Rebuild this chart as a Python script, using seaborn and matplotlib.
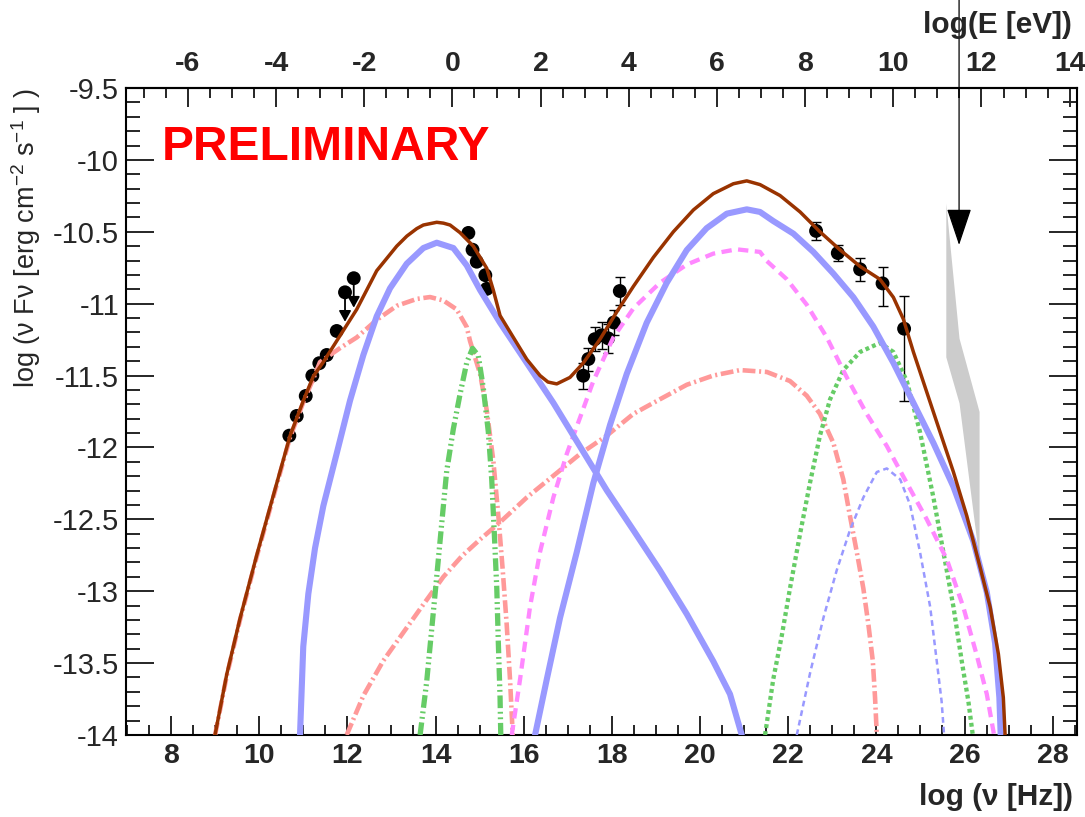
import numpy as np
import matplotlib
matplotlib.use("Agg")
import matplotlib.pyplot as plt
from matplotlib.ticker import MultipleLocator
import seaborn as sns

# ---------------- data ----------------
radio_x = [10.684, 10.852, 11.056, 11.206, 11.364, 11.532, 11.759]
radio_y = [-11.918, -11.781, -11.642, -11.501, -11.414, -11.357, -11.190]
ul_x = [11.947, 12.145]
ul_y = [-10.921, -10.823]
opt_x = [14.745, 14.840, 14.935, 15.130, 15.162]
opt_y = [-10.508, -10.625, -10.708, -10.802, -10.897]
xray_x = [17.350, 17.467, 17.612, 17.765, 17.915, 18.045, 18.180]
xray_y = [-11.501, -11.385, -11.247, -11.220, -11.241, -11.131, -10.912]
xray_err = [0.09, 0.08, 0.085, 0.095, 0.10, 0.085, 0.10]
gam_x = [22.632, 23.125, 23.631, 24.140, 24.629]
gam_y = [-10.494, -10.648, -10.761, -10.859, -11.174]
gam_err_lo = [0.063, 0.058, 0.078, 0.155, 0.505]
gam_err_hi = [0.063, 0.058, 0.078, 0.112, 0.228]
band_x = [25.575, 25.875, 26.330]
band_hi = [-10.30, -11.24, -11.75]
band_lo = [-11.37, -11.69, -12.78]
limit_x = 25.876
limit_y = -10.592

total_x = [8.998, 9.263, 9.565, 9.944, 10.321, 10.70, 11.002, 11.23, 11.455, 11.759,
           12.212, 12.666, 13.12, 13.35, 13.574, 13.724, 14.028, 14.18, 14.33, 14.556,
           14.858, 15.162, 15.31, 15.464, 15.766, 16.07, 16.37, 16.55, 16.75, 17.05,
           17.354, 17.732, 18.11, 18.488, 18.942, 19.395, 19.85, 20.30, 20.756, 21.06,
           21.362, 21.815, 22.27, 22.72, 23.18, 23.63, 24.08, 24.386, 24.613, 24.84,
           25.143, 25.445, 25.748, 26.05, 26.35, 26.58, 26.768, 26.88, 26.92]
total_y = [-14.0, -13.58, -13.19, -12.75, -12.334, -11.919, -11.675, -11.504, -11.406, -11.259,
           -11.04, -10.771, -10.60, -10.53, -10.478, -10.453, -10.434, -10.44, -10.453, -10.506,
           -10.60, -10.754, -10.905, -11.083, -11.235, -11.387, -11.50, -11.545, -11.558, -11.513,
           -11.412, -11.247, -11.058, -10.88, -10.678, -10.50, -10.348, -10.235, -10.166, -10.146,
           -10.172, -10.248, -10.362, -10.50, -10.627, -10.741, -10.83, -10.956, -11.108, -11.336,
           -11.615, -11.893, -12.171, -12.475, -12.83, -13.108, -13.437, -13.74, -14.0]

sync_x = [10.926, 11.0, 11.115, 11.267, 11.455, 11.759, 12.06, 12.363, 12.666, 12.968,
          13.347, 13.724, 14.028, 14.405, 14.708, 15.01, 15.464, 16.07, 16.673, 17.279,
          17.884, 18.49, 19.09, 19.70, 20.30, 20.68, 20.947]
sync_y = [-14.0, -13.385, -13.018, -12.70, -12.407, -12.041, -11.675, -11.357, -11.088, -10.893,
          -10.722, -10.613, -10.576, -10.613, -10.734, -10.905, -11.133, -11.412, -11.69, -11.994,
          -12.298, -12.576, -12.855, -13.159, -13.487, -13.716, -14.0]

ssc_x = [16.258, 16.523, 16.825, 17.204, 17.58, 17.96, 18.338, 18.79, 19.245, 19.70,
         20.15, 20.607, 21.06, 21.36, 21.66, 22.118, 22.57, 23.025, 23.48, 23.93,
         24.386, 24.84, 25.294, 25.748, 26.20, 26.505, 26.693, 26.79, 26.82]
ssc_y = [-14.0, -13.614, -13.184, -12.728, -12.247, -11.842, -11.488, -11.133, -10.855, -10.627,
         -10.475, -10.374, -10.344, -10.362, -10.425, -10.513, -10.64, -10.791, -10.956, -11.159,
         -11.412, -11.69, -11.969, -12.273, -12.652, -13.007, -13.361, -13.74, -14.0]

ext1_x = [9.0, 9.263, 9.565, 9.944, 10.321, 10.70, 11.002, 11.23, 11.38, 11.834,
          12.212, 12.666, 13.12, 13.574, 13.876, 14.178, 14.48, 14.708, 14.783, 15.01,
          15.162, 15.312, 15.425, 15.525, 15.615, 15.69, 15.752]
ext1_y = [-14.0, -13.59, -13.20, -12.76, -12.345, -11.93, -11.685, -11.52, -11.406, -11.309,
          -11.235, -11.113, -11.015, -10.967, -10.954, -10.978, -11.04, -11.162, -11.26, -11.488,
          -11.741, -12.095, -12.475, -12.855, -13.234, -13.614, -14.0]

ext2_x = [11.985, 12.363, 12.816, 13.27, 13.724, 14.178, 14.6, 15.01, 15.464, 16.07,
          16.673, 17.28, 17.884, 18.49, 19.09, 19.70, 20.30, 20.908, 21.514, 22.04,
          22.42, 22.72, 23.025, 23.25, 23.40, 23.556, 23.705, 23.82, 23.92, 23.97, 24.01]
ext2_y = [-14.0, -13.727, -13.483, -13.287, -13.092, -12.90, -12.755, -12.64, -12.52, -12.348,
          -12.197, -12.045, -11.918, -11.766, -11.665, -11.564, -11.50, -11.462, -11.475, -11.538,
          -11.64, -11.766, -11.969, -12.222, -12.475, -12.728, -12.981, -13.234, -13.487, -13.74, -14.0]

disk_x = [13.65, 13.80, 13.914, 14.028, 14.14, 14.254, 14.405, 14.556, 14.708, 14.84,
          14.97, 15.085, 15.198, 15.275, 15.334, 15.39, 15.425, 15.464, 15.48]
disk_y = [-14.0, -13.628, -13.262, -12.896, -12.53, -12.163, -11.87, -11.63, -11.41, -11.311,
          -11.362, -11.589, -11.893, -12.222, -12.601, -12.981, -13.361, -13.74, -14.0]

ec1_x = [15.729, 15.917, 16.144, 16.37, 16.673, 16.977, 17.28, 17.58, 18.034, 18.49,
         19.09, 19.70, 20.30, 20.83, 21.36, 21.514, 21.968, 22.42, 22.876, 23.33,
         23.78, 24.236, 24.69, 25.143, 25.6, 25.97, 26.27, 26.505, 26.67]
ec1_y = [-14.0, -13.614, -13.108, -12.728, -12.348, -12.045, -11.791, -11.538, -11.235, -11.032,
         -10.855, -10.728, -10.652, -10.622, -10.64, -10.703, -10.83, -11.007, -11.235, -11.513,
         -11.766, -11.99, -12.247, -12.50, -12.78, -13.108, -13.437, -13.716, -14.0]

ec2_x = [21.475, 21.66, 21.854, 22.04, 22.27, 22.494, 22.72, 22.95, 23.25, 23.63,
         24.08, 24.386, 24.69, 24.99, 25.294, 25.52, 25.748, 25.937, 26.087, 26.187]
ec2_y = [-14.0, -13.614, -13.31, -12.981, -12.60, -12.247, -11.918, -11.665, -11.462, -11.336,
         -11.273, -11.336, -11.538, -11.893, -12.348, -12.728, -13.108, -13.487, -13.766, -14.0]

ec3_x = [22.195, 22.5, 22.80, 23.10, 23.40, 23.705, 24.01, 24.236, 24.54, 24.765,
         24.99, 25.22, 25.37, 25.48, 25.536]
ec3_y = [-14.0, -13.564, -13.184, -12.855, -12.576, -12.348, -12.171, -12.146, -12.222, -12.399,
         -12.728, -13.108, -13.487, -13.766, -14.0]

x_ticks = [8, 10, 12, 14, 16, 18, 20, 22, 24, 26, 28]
e_ticks = [-6, -4, -2, 0, 2, 4, 6, 8, 10, 12, 14]
y_ticks = [-14, -13.5, -13, -12.5, -12, -11.5, -11, -10.5, -10, -9.5]
LOG_H = 14.384  # log10 of 1/h in eV s

# ---------------- style ----------------
sns.set_style("ticks")
plt.rcParams["font.family"] = ["Liberation Sans", "DejaVu Sans"]
plt.rcParams["mathtext.fontset"] = "custom"
plt.rcParams["mathtext.rm"] = "Liberation Sans"
plt.rcParams["mathtext.it"] = "Liberation Sans"
plt.rcParams["axes.unicode_minus"] = False

BROWN = "#993300"
BLUE = "#9999ff"
SALMON = "#ff9999"
GREEN = "#66cc66"
PINK = "#ff88ff"

W, H = 1085, 817
fig = plt.figure(figsize=(W / 100, H / 100), dpi=100)
ax = fig.add_axes([126 / W, 1 - 735 / H, (1077 - 126) / W, (735 - 88) / H])

# grey butterfly
ax.fill_between(band_x, band_lo, band_hi, color="#cccccc", lw=0, zorder=1)

# data points
pts_x = radio_x + ul_x + opt_x + xray_x + gam_x
pts_y = radio_y + ul_y + opt_y + xray_y + gam_y
sns.scatterplot(x=pts_x, y=pts_y, ax=ax, color="black", s=100, edgecolor="none",
                zorder=3, legend=False)
ax.errorbar(xray_x, xray_y, yerr=xray_err, fmt="none", ecolor="black",
            elinewidth=1.0, capsize=3.5, capthick=1.0, zorder=3)
ax.errorbar(gam_x, gam_y, yerr=[gam_err_lo, gam_err_hi], fmt="none", ecolor="black",
            elinewidth=1.0, capsize=3.5, capthick=1.0, zorder=3)
for ux, uy in zip(ul_x, ul_y):
    ax.annotate("", xy=(ux, uy - 0.205), xytext=(ux, uy),
                arrowprops=dict(arrowstyle="-|>,head_length=6.5,head_width=3.6",
                                mutation_scale=1, color="black", lw=1.3,
                                shrinkA=0, shrinkB=0), zorder=3)

# model curves
def curve(x, y, color, lw, ls, z=4):
    sns.lineplot(x=x, y=y, ax=ax, color=color, lw=lw, linestyle=ls, sort=False,
                 estimator=None, zorder=z, legend=False)

curve(ext2_x, ext2_y, SALMON, 3.3, (0, (2.8, 0.8, 0.45, 0.8)))
curve(ext1_x, ext1_y, SALMON, 3.3, (0, (2.8, 0.8, 0.45, 0.8)))
curve(disk_x, disk_y, GREEN, 3.8, (0, (2.4, 0.7, 0.35, 0.7, 0.35, 0.7)))
curve(ec3_x, ec3_y, BLUE, 1.8, (0, (2.3, 1.6)))
curve(ec2_x, ec2_y, GREEN, 3.1, (0, (0.9, 0.75)))
curve(ec1_x, ec1_y, PINK, 3.1, (0, (2.4, 1.5)))
curve(sync_x, sync_y, BLUE, 4.4, "-")
curve(ssc_x, ssc_y, BLUE, 4.4, "-")
curve(total_x, total_y, BROWN, 2.5, "-", z=5)

# H.E.S.S. upper limit arrow
ax.annotate("", xy=(limit_x, limit_y), xytext=(limit_x, -8.888),
            arrowprops=dict(arrowstyle="-|>,head_length=23.5,head_width=7.9",
                            mutation_scale=1, color="black", lw=0.9,
                            shrinkA=0, shrinkB=0),
            annotation_clip=False, zorder=6)

# axes
ax.set_xlim(6.979, 28.551)
ax.set_ylim(-14, -9.5)
ax.set_xlabel("")
ax.set_ylabel("")
ax.set_xticks(x_ticks, labels=[str(t) for t in x_ticks], fontweight="bold")
ax.set_yticks(y_ticks, labels=[f"{t:g}" for t in y_ticks])
ax.xaxis.set_minor_locator(MultipleLocator(0.5))
ax.yaxis.set_minor_locator(MultipleLocator(0.1))
ax.tick_params(axis="x", which="major", direction="in", length=13.7, width=1.4,
               labelsize=20.5, pad=6, top=False)
ax.tick_params(axis="x", which="minor", direction="in", length=7, width=1.4, top=False)
ax.tick_params(axis="y", which="major", direction="in", length=20.5, width=1.4,
               labelsize=21, pad=5, left=True, right=True)
ax.tick_params(axis="y", which="minor", direction="in", length=10, width=1.4,
               left=True, right=True)
for sp in ax.spines.values():
    sp.set_linewidth(1.5)
    sp.set_color("black")
    sp.set_visible(True)

sec = ax.secondary_xaxis("top", functions=(lambda x: x - LOG_H, lambda e: e + LOG_H))
sec.set_xticks(e_ticks, labels=[str(t) for t in e_ticks], fontweight="bold")
sec.xaxis.set_minor_locator(MultipleLocator(0.5))
sec.tick_params(axis="x", which="major", direction="in", length=13.7, width=1.4,
                labelsize=20.5, pad=8)
sec.tick_params(axis="x", which="minor", direction="in", length=7, width=1.4)
sec.spines["top"].set_linewidth(1.5)

# texts
ax.text(7.796, -9.917, "PRELIMINARY", color="red", fontsize=34.5, fontweight="bold",
        ha="left", va="center")
fig.text(1073 / W, 1 - 797 / H, "log (\u03bd [Hz])", fontsize=21.5, fontweight="bold",
         ha="right", va="center")
fig.text(1072 / W, 1 - 25 / H, "log(E [eV])", fontsize=21.5, fontweight="bold",
         ha="right", va="center")
fig.text(26 / W, 1 - 88 / H, "log (\u03bd F\u03bd [erg cm$^{-2}$ s$^{-1}$ ] )",
         fontsize=19.5, rotation=90, ha="center", va="top")

fig.savefig("out.png", dpi=100, facecolor="white")
